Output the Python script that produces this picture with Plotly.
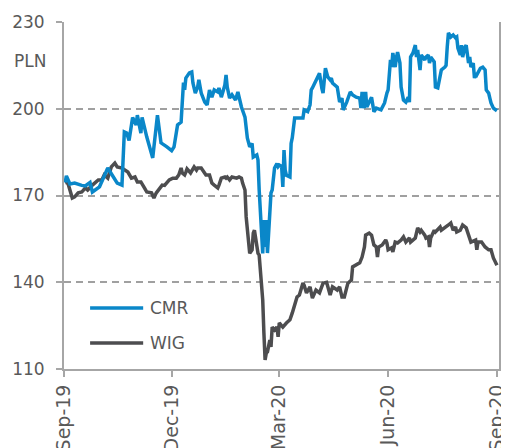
import plotly.graph_objects as go

# ---------------- data ----------------
cmr_dates = [
    "2019-09-02", "2019-09-03", "2019-09-06", "2019-09-10", "2019-09-16", "2019-09-19", "2019-09-23", "2019-09-25",
    "2019-10-01", "2019-10-07", "2019-10-08", "2019-10-16", "2019-10-20", "2019-10-22", "2019-10-24", "2019-10-26",
    "2019-10-29", "2019-11-01", "2019-11-02", "2019-11-05", "2019-11-06", "2019-11-10", "2019-11-15", "2019-11-19",
    "2019-11-22", "2019-11-27", "2019-12-01", "2019-12-03", "2019-12-06", "2019-12-09", "2019-12-11", "2019-12-12",
    "2019-12-13", "2019-12-16", "2019-12-18", "2019-12-19", "2019-12-21", "2019-12-23", "2019-12-24", "2019-12-26",
    "2019-12-29", "2019-12-31", "2020-01-02", "2020-01-04", "2020-01-06", "2020-01-09", "2020-01-10", "2020-01-12",
    "2020-01-15", "2020-01-16", "2020-01-17", "2020-01-19", "2020-01-21", "2020-01-24", "2020-01-26", "2020-01-29",
    "2020-02-01", "2020-02-03", "2020-02-05", "2020-02-07", "2020-02-08", "2020-02-11", "2020-02-12", "2020-02-13",
    "2020-02-15", "2020-02-16", "2020-02-17", "2020-02-18", "2020-02-19", "2020-02-20", "2020-02-22", "2020-02-23",
    "2020-02-24", "2020-02-26", "2020-02-28", "2020-02-29", "2020-03-01", "2020-03-03", "2020-03-04", "2020-03-05",
    "2020-03-06", "2020-03-07", "2020-03-10", "2020-03-11", "2020-03-12", "2020-03-14", "2020-03-16", "2020-03-18",
    "2020-03-21", "2020-03-22", "2020-03-25", "2020-03-27", "2020-03-28", "2020-03-29", "2020-04-01", "2020-04-02",
    "2020-04-04", "2020-04-06", "2020-04-07", "2020-04-09", "2020-04-11", "2020-04-13", "2020-04-14", "2020-04-15",
    "2020-04-19", "2020-04-21", "2020-04-23", "2020-04-24", "2020-04-27", "2020-04-30", "2020-05-02", "2020-05-05",
    "2020-05-08", "2020-05-09", "2020-05-10", "2020-05-12", "2020-05-13", "2020-05-14", "2020-05-18", "2020-05-20",
    "2020-05-22", "2020-05-26", "2020-05-29", "2020-05-31", "2020-06-01", "2020-06-03", "2020-06-04", "2020-06-05",
    "2020-06-07", "2020-06-08", "2020-06-09", "2020-06-11", "2020-06-12", "2020-06-14", "2020-06-16", "2020-06-18",
    "2020-06-19", "2020-06-20", "2020-06-22", "2020-06-24", "2020-06-25", "2020-06-26", "2020-06-28", "2020-06-29",
    "2020-07-02", "2020-07-03", "2020-07-05", "2020-07-06", "2020-07-07", "2020-07-10", "2020-07-11", "2020-07-13",
    "2020-07-15", "2020-07-16", "2020-07-19", "2020-07-20", "2020-07-21", "2020-07-22", "2020-07-24", "2020-07-26",
    "2020-07-28", "2020-07-29", "2020-07-30", "2020-08-01", "2020-08-02", "2020-08-03", "2020-08-05", "2020-08-06",
    "2020-08-08", "2020-08-09", "2020-08-10", "2020-08-12", "2020-08-13", "2020-08-14", "2020-08-15", "2020-08-18",
    "2020-08-20", "2020-08-22", "2020-08-23", "2020-08-25", "2020-08-26", "2020-08-27", "2020-08-29", "2020-08-31",
    "2020-09-01",
]
cmr_values = [
    174.5, 176.8, 174.0, 174.3, 173.5, 173.3, 174.5, 171.2,
    173.0, 178.0, 179.5, 174.3, 173.6, 192.0, 191.6, 189.0,
    197.0, 194.4, 197.8, 191.6, 197.0, 190.2, 183.0, 197.8,
    188.2, 186.8, 185.5, 186.8, 194.4, 195.4, 209.0, 206.5,
    210.6, 212.4, 212.7, 208.9, 205.4, 207.5, 210.0, 205.4,
    202.3, 201.3, 206.5, 204.0, 206.5, 205.8, 207.2, 204.0,
    208.2, 211.7, 207.5, 203.7, 204.8, 203.0, 205.8, 200.6,
    197.1, 189.9, 186.8, 188.0, 183.3, 184.0, 182.3, 172.0,
    159.0, 150.0, 161.5, 152.2, 161.5, 150.1, 164.0, 170.9,
    171.9, 179.5, 181.0, 180.0, 180.5, 180.0, 173.0, 185.7,
    178.8, 177.0, 176.4, 188.0, 190.0, 196.8, 196.8, 196.8,
    196.8, 199.6, 199.0, 201.3, 206.5, 207.2, 210.0, 211.0,
    212.3, 207.0, 205.4, 214.0, 211.0, 210.0, 210.6, 208.9,
    207.5, 202.3, 203.7, 199.6, 202.3, 205.8, 204.8, 204.0,
    203.7, 200.2, 205.8, 200.2, 205.8, 200.6, 204.0, 199.0,
    200.2, 199.6, 202.0, 205.4, 206.5, 216.9, 214.4, 219.3,
    214.4, 217.6, 219.6, 215.8, 207.5, 203.0, 202.3, 204.0,
    202.3, 217.9, 219.3, 222.0, 217.9, 220.3, 213.4, 218.6,
    216.9, 217.9, 218.6, 215.8, 217.9, 216.2, 207.5, 207.2,
    211.0, 213.4, 214.4, 215.0, 221.4, 226.2, 224.8, 225.5,
    224.5, 224.8, 221.0, 218.6, 222.0, 217.9, 221.4, 222.0,
    215.8, 217.9, 214.4, 215.8, 210.6, 212.3, 211.7, 214.0,
    214.4, 213.4, 206.5, 205.4, 203.7, 202.0, 200.2, 199.6,
    199.3,
]

wig_dates = [
    "2019-09-02", "2019-09-04", "2019-09-08", "2019-09-10", "2019-09-13", "2019-09-16", "2019-09-19", "2019-09-21",
    "2019-09-25", "2019-09-27", "2019-09-30", "2019-10-03", "2019-10-05", "2019-10-08", "2019-10-11", "2019-10-14",
    "2019-10-16", "2019-10-20", "2019-10-22", "2019-10-25", "2019-10-28", "2019-10-31", "2019-11-02", "2019-11-05",
    "2019-11-08", "2019-11-10", "2019-11-14", "2019-11-16", "2019-11-18", "2019-11-21", "2019-11-23", "2019-11-25",
    "2019-11-27", "2019-11-29", "2019-12-02", "2019-12-05", "2019-12-07", "2019-12-09", "2019-12-10", "2019-12-12",
    "2019-12-13", "2019-12-14", "2019-12-17", "2019-12-19", "2019-12-20", "2019-12-22", "2019-12-23", "2019-12-26",
    "2019-12-27", "2019-12-30", "2020-01-02", "2020-01-04", "2020-01-06", "2020-01-09", "2020-01-10", "2020-01-12",
    "2020-01-15", "2020-01-16", "2020-01-17", "2020-01-19", "2020-01-21", "2020-01-25", "2020-01-27", "2020-01-29",
    "2020-01-30", "2020-02-01", "2020-02-02", "2020-02-03", "2020-02-05", "2020-02-07", "2020-02-08", "2020-02-09",
    "2020-02-11", "2020-02-12", "2020-02-13", "2020-02-15", "2020-02-16", "2020-02-17", "2020-02-18", "2020-02-19",
    "2020-02-20", "2020-02-22", "2020-02-23", "2020-02-24", "2020-02-26", "2020-02-28", "2020-02-29", "2020-03-01",
    "2020-03-04", "2020-03-07", "2020-03-10", "2020-03-12", "2020-03-14", "2020-03-16", "2020-03-18", "2020-03-21",
    "2020-03-22", "2020-03-24", "2020-03-27", "2020-03-29", "2020-04-01", "2020-04-04", "2020-04-07", "2020-04-10",
    "2020-04-13", "2020-04-15", "2020-04-19", "2020-04-21", "2020-04-23", "2020-04-25", "2020-04-28", "2020-05-01",
    "2020-05-02", "2020-05-05", "2020-05-08", "2020-05-10", "2020-05-12", "2020-05-13", "2020-05-16", "2020-05-18",
    "2020-05-20", "2020-05-22", "2020-05-23", "2020-05-24", "2020-05-27", "2020-05-30", "2020-05-31", "2020-06-01",
    "2020-06-04", "2020-06-05", "2020-06-07", "2020-06-09", "2020-06-12", "2020-06-14", "2020-06-16", "2020-06-19",
    "2020-06-20", "2020-06-24", "2020-06-26", "2020-06-28", "2020-06-29", "2020-07-02", "2020-07-03", "2020-07-05",
    "2020-07-06", "2020-07-07", "2020-07-10", "2020-07-11", "2020-07-15", "2020-07-16", "2020-07-19", "2020-07-22",
    "2020-07-24", "2020-07-26", "2020-07-28", "2020-07-29", "2020-08-01", "2020-08-03", "2020-08-06", "2020-08-08",
    "2020-08-10", "2020-08-14", "2020-08-15", "2020-08-16", "2020-08-19", "2020-08-22", "2020-08-25", "2020-08-27",
    "2020-08-29", "2020-09-01",
]
wig_values = [
    174.3, 174.7, 169.1, 169.5, 170.9, 171.2, 172.6, 171.9,
    173.6, 174.3, 175.4, 175.4, 177.1, 176.0, 179.9, 181.2,
    179.9, 179.5, 178.8, 178.1, 176.0, 176.4, 174.7, 174.7,
    172.6, 171.2, 170.9, 169.1, 170.9, 172.5, 173.6, 173.5,
    174.7, 175.4, 176.0, 176.0, 177.1, 179.5, 177.8, 177.1,
    178.1, 179.2, 177.8, 179.5, 179.9, 178.8, 179.5, 179.5,
    178.8, 177.1, 177.1, 174.3, 173.6, 172.6, 173.6, 176.0,
    176.4, 176.0, 176.4, 175.4, 176.4, 176.0, 176.4, 176.0,
    174.3, 171.9, 162.6, 158.0, 150.0, 151.2, 157.0, 158.0,
    152.2, 150.0, 149.4, 138.4, 133.9, 122.5, 113.1, 115.5,
    115.9, 120.0, 117.6, 124.5, 123.5, 124.5, 121.1, 125.9,
    124.5, 125.9, 127.0, 129.4, 132.5, 134.9, 135.6, 139.7,
    139.0, 136.3, 138.4, 134.5, 137.3, 136.3, 139.7, 140.0,
    135.6, 138.4, 137.3, 138.4, 134.9, 134.9, 139.7, 140.8,
    145.3, 145.9, 146.7, 148.7, 152.2, 156.3, 157.0, 156.3,
    152.9, 152.2, 148.7, 152.2, 152.9, 154.6, 153.6, 151.2,
    151.9, 150.5, 153.9, 153.6, 154.6, 155.7, 153.9, 155.3,
    153.9, 155.3, 158.8, 157.4, 158.0, 156.3, 155.3, 155.7,
    152.2, 155.3, 158.0, 157.4, 159.1, 158.0, 159.1, 159.8,
    160.5, 158.0, 159.1, 157.4, 158.0, 159.8, 158.8, 156.3,
    153.9, 154.6, 151.2, 153.9, 153.9, 152.2, 151.2, 151.2,
    148.4, 145.9,
]

tick_dates = ["2019-09-01", "2019-12-01", "2020-03-01", "2020-06-01", "2020-09-01"]
tick_labels = ["Sep-19", "Dec-19", "Mar-20", "Jun-20", "Sep-20"]
y_ticks = [110, 140, 170, 200, 230]

series_names = ["CMR", "WIG"]
series_colors = ["#0a87c9", "#4d4d4f"]

# ---------------- figure ----------------
FONT = "DejaVu Sans"
TXT = "#595959"
AX = "#a6a6a6"
LW = 3.5

fig = go.Figure()
fig.add_trace(go.Scatter(x=wig_dates, y=wig_values, mode="lines", name=series_names[1],
                         line=dict(color=series_colors[1], width=LW), showlegend=False))
fig.add_trace(go.Scatter(x=cmr_dates, y=cmr_values, mode="lines", name=series_names[0],
                         line=dict(color=series_colors[0], width=LW), showlegend=False))

# manual legend
legend_y = [0.176, 0.075]
for name, col, ly in zip(series_names, series_colors, legend_y):
    fig.add_shape(type="line", xref="paper", yref="paper", x0=0.06, x1=0.182, y0=ly, y1=ly,
                  line=dict(color=col, width=LW))
    fig.add_annotation(xref="paper", yref="paper", x=0.193, y=ly, text=name, showarrow=False,
                       xanchor="left", yanchor="middle", font=dict(family=FONT, size=17, color=TXT))

fig.add_annotation(xref="paper", yref="paper", x=-0.037, y=0.888, text="PLN", showarrow=False,
                   xanchor="right", yanchor="middle", font=dict(family=FONT, size=17, color=TXT))

# the page body adds an 8px offset, so the figure is sized/margined to compensate
fig.update_layout(
    width=501, height=440,
    margin=dict(l=56, r=10, t=14, b=79),
    paper_bgcolor="white", plot_bgcolor="white",
    font=dict(family=FONT, size=17, color=TXT),
    xaxis=dict(
        type="date", range=["2019-09-01", "2020-09-02 18:00"],
        tickvals=tick_dates, ticktext=tick_labels, tickangle=-90,
        tickfont=dict(family=FONT, size=19, color=TXT),
        ticks="outside", ticklen=6, tickcolor=AX, tickwidth=2,
        showline=True, linecolor=AX, linewidth=2, showgrid=False,
        zeroline=False, automargin=False, fixedrange=True,
    ),
    yaxis=dict(
        range=[110, 230], tickvals=y_ticks,
        ticks="outside", ticklen=6, tickcolor=AX, tickwidth=2,
        showline=True, linecolor=AX, linewidth=2, mirror=True,
        showgrid=True, gridcolor="#a0a0a0", gridwidth=1.6, griddash="7px,5px",
        zeroline=False, automargin=False, ticklabelstandoff=8,
    ),
)

fig.write_html("out.html")
